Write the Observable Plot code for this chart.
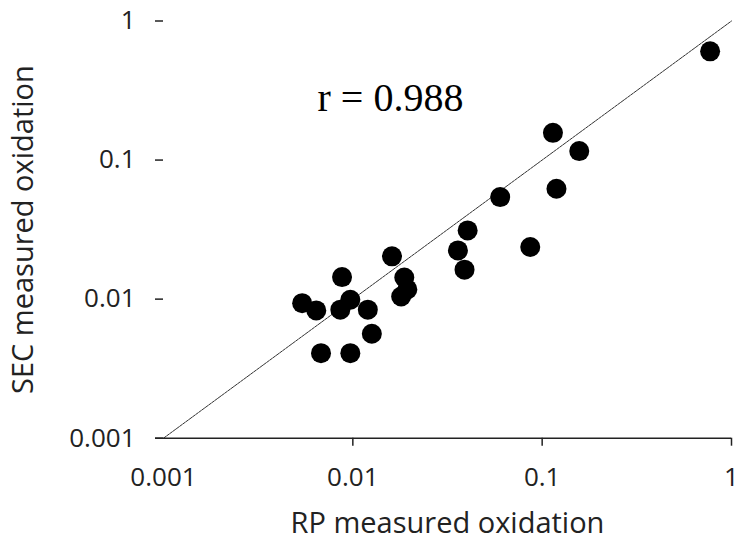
<!DOCTYPE html>
<html><head><meta charset="utf-8">
<script src="https://cdn.jsdelivr.net/npm/d3@7"></script>
<script src="https://cdn.jsdelivr.net/npm/@observablehq/plot@0.6"></script>
<style>body{margin:0;background:#fff}</style>
</head><body><div id="chart"></div>
<script>
// RP measured oxidation (x) vs SEC measured oxidation (y)
const rpOxidation  = [0.771, 0.114, 0.157, 0.119, 0.060, 0.0865, 0.0404, 0.0359, 0.0389, 0.0161, 0.0187, 0.0194, 0.0180, 0.00877, 0.0054, 0.00641, 0.00859, 0.0097, 0.0120, 0.0126, 0.00679, 0.0097];
const secOxidation = [0.605, 0.157, 0.116, 0.0622, 0.0542, 0.0237, 0.0312, 0.0224, 0.0163, 0.0203, 0.0143, 0.01175, 0.01045, 0.0144, 0.00935, 0.0083, 0.0084, 0.0099, 0.0084, 0.00564, 0.00409, 0.00409];
const tickValues = [0.001, 0.01, 0.1, 1];
const tickLabels = ["0.001", "0.01", "0.1", "1"];
const xMarkedTicks = [0.01, 0.1, 1];
const fitX = [0.001, 1];
const fitY = [0.001, 1];
const annotation = [{x: 0.0158, y: 0.277, text: "r = 0.988"}];
const xTitle = "RP measured oxidation";
const yTitle = "SEC measured oxidation";

const points = rpOxidation.map((x, i) => ({x, y: secOxidation[i]}));
const fit = fitX.map((x, i) => ({x, y: fitY[i]}));
const fmt = d => tickLabels[tickValues.indexOf(d)] ?? String(d);

const chart = Plot.plot({
  width: 748, height: 545,
  marginLeft: 163, marginRight: 17, marginTop: 20.5, marginBottom: 107.3,
  style: {fontFamily: "Open Sans", background: "#fff", color: "#222", overflow: "visible"},
  x: {type: "log", domain: [0.001, 1]},
  y: {type: "log", domain: [0.001, 1]},
  marks: [
    Plot.line(fit, {x: "x", y: "y", stroke: "#333", strokeWidth: 1, strokeDasharray: "3,1"}),
    Plot.ruleY([0.001], {insetLeft: -8, stroke: "#222", strokeWidth: 1.5}),
    Plot.axisX({ticks: xMarkedTicks, tickSize: 8, tickFormat: () => "", label: null, strokeWidth: 1.5}),
    Plot.axisX({ticks: tickValues, tickSize: 0, tickPadding: 29, tickFormat: fmt, fontSize: 26, label: null}),
    Plot.axisY({ticks: tickValues, tickSize: 8, tickPadding: 20, tickFormat: fmt, fontSize: 26, label: null, strokeWidth: 1.5}),
    Plot.dot(points, {x: "x", y: "y", r: 10, fill: "black"}),
    Plot.text(annotation, {x: "x", y: "y", text: "text", fontSize: 40, fontFamily: "Liberation Serif", fill: "black"}),
    Plot.text([xTitle], {text: d => d, frameAnchor: "bottom", lineAnchor: "middle", textAnchor: "middle", dy: 86, fontSize: 29, fill: "#222"}),
    Plot.text([yTitle], {text: d => d, frameAnchor: "left", lineAnchor: "middle", textAnchor: "middle", dx: -140, rotate: -90, fontSize: 29, fill: "#222"})
  ]
});
document.getElementById("chart").append(chart);
</script>
</body></html>
